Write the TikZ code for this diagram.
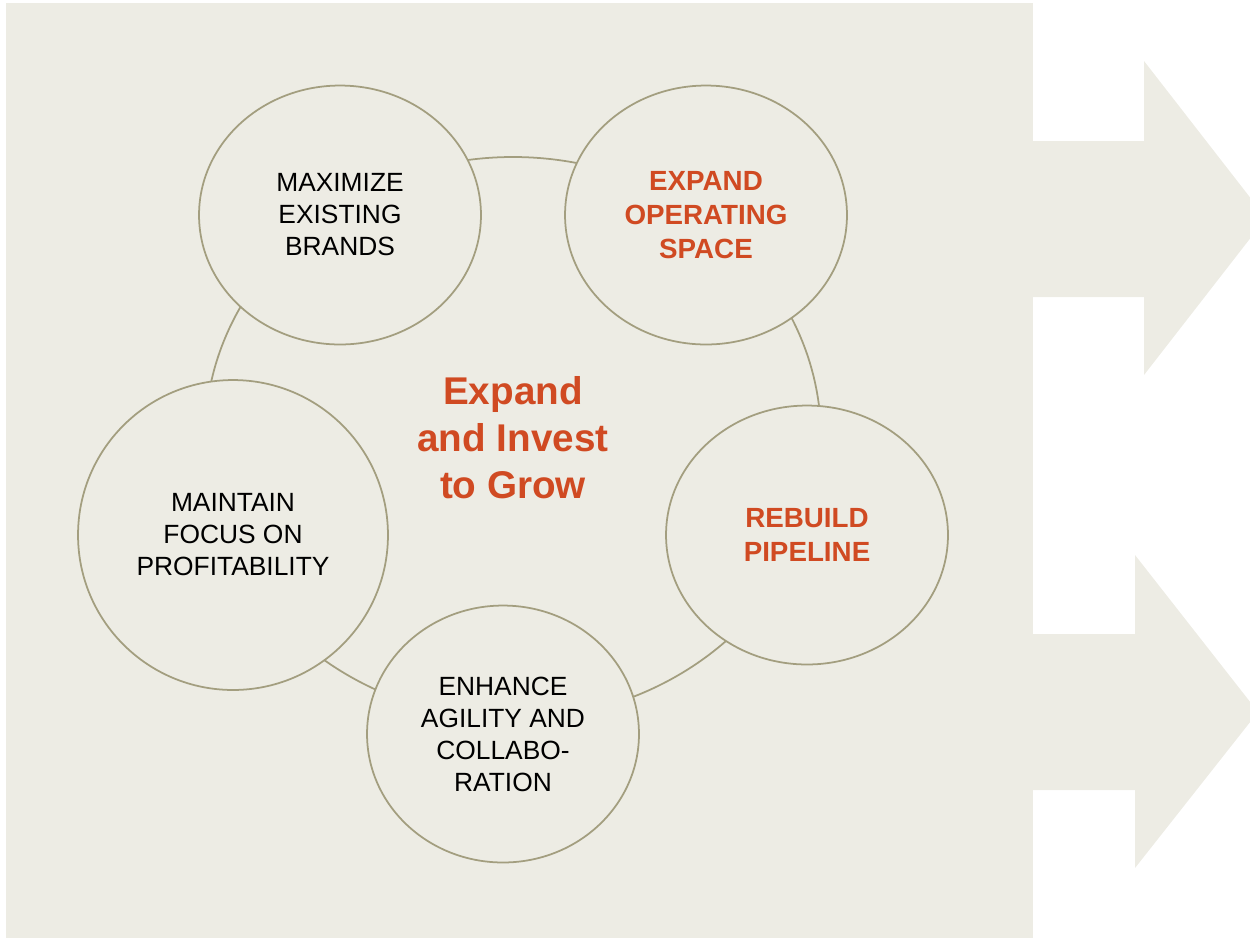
\documentclass[tikz,border=0pt]{standalone}
\usepackage{fontspec}
\setmainfont{Liberation Sans}
\usetikzlibrary{shapes.geometric,positioning}
\definecolor{panel}{HTML}{EDECE4}
\definecolor{rim}{HTML}{A39E7F}
\definecolor{rust}{HTML}{D04A22}

\begin{document}
\begin{tikzpicture}[x=0.02cm,y=-0.02cm,
    goal/.style={ellipse,draw=rim,line width=1pt,fill=panel,inner sep=0pt,
      minimum width=5.64cm,minimum height=5.18cm,align=center,
      font=\fontsize{15}{18.2}\selectfont},
    hot/.style={text=rust,font=\fontsize{15.8}{19.2}\selectfont\bfseries}]
    \clip (0,0) rectangle (1250,938);
    \useasboundingbox (0,0) rectangle (1250,938);

    % panel and the two arrows
    \fill[panel] (6,3) rectangle (1033,938);
    \fill[panel] (1020,141) -- (1144,141) -- (1144,61) -- (1266,218)
      -- (1144,375) -- (1144,297) -- (1020,297) -- cycle;
    \fill[panel] (1020,634) -- (1135,634) -- (1135,555) -- (1258,712)
      -- (1135,868) -- (1135,790) -- (1020,790) -- cycle;

    % ring behind the circles
    \coordinate (C) at (513,438);
    \draw[rim,line width=1pt] (C) ellipse [x radius=308,y radius=281];

    \node[goal] (MB) at (340,215) {MAXIMIZE\\EXISTING\\BRANDS};
    \node[goal,hot] (EO) at (706,215) {EXPAND\\OPERATING\\SPACE};
    \node[goal,hot] (RP) at (807,535) {REBUILD\\PIPELINE};
    \node[goal,minimum width=5.44cm,minimum height=5.14cm] (EA) at (503,734)
      {ENHANCE\\AGILITY AND\\COLLABO-\\RATION};
    \node[goal,minimum width=6.2cm,minimum height=6.2cm] (MF) at (233,535)
      {MAINTAIN\\FOCUS ON\\PROFITABILITY};

    \node[align=center,text=rust,font=\fontsize{22}{26.8}\selectfont\bfseries]
      (G) at (C) {Expand\\and Invest\\to Grow};
  \end{tikzpicture}
\end{document}
